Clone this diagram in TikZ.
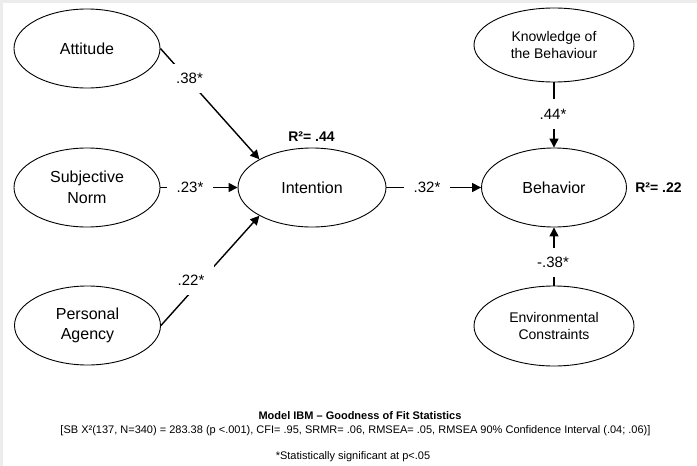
\documentclass[tikz,border=0pt]{standalone}
\usepackage{fontspec}
\setmainfont{Liberation Sans}
\usetikzlibrary{shapes.geometric, arrows.meta}

\begin{document}
\begin{tikzpicture}[x=1pt, y=-1pt,
  latent/.style={ellipse, draw, line width=0.9pt, inner sep=0pt,
    minimum width=146pt, minimum height=79pt, align=center,
    font=\fontsize{16}{20.5}\selectfont},
  latentsm/.style={latent, minimum width=160pt,
    font=\fontsize{14}{16.5}\selectfont},
  link/.style={line width=1.4pt, -{Triangle[length=9pt,width=9pt]}},
  coef/.style={fill=white, inner sep=9.5pt, font=\fontsize{15}{18}\selectfont},
  rsq/.style={inner sep=0pt, font=\bfseries\fontsize{14}{17}\selectfont},
  note/.style={inner sep=0pt, font=\fontsize{11}{13}\selectfont},
  notebf/.style={note, font=\bfseries\fontsize{11}{13}\selectfont}]

% canvas with a thin grey rim on the top and left
\fill[gray!15] (0,0) rectangle (697,466);
\fill[white] (3,3) rectangle (697,466);
\useasboundingbox (0,0) rectangle (697,466);

% constructs
\node[latent] (att)    at (87,48.5)   {Attitude};
\node[latent] (sub)    at (87,187.5)  {Subjective\\Norm};
\node[latent] (agency) at (87.5,325.5){Personal\\Agency};
\node[latent, minimum width=148pt] (int) at (312,187.5) {Intention};
\node[latent, minimum width=145pt] (beh) at (554,187.5) {Behavior};
\node[latentsm, minimum height=74pt] (know) at (554,45) {Knowledge of\\the Behaviour};
\node[latentsm, minimum height=80pt] (env)  at (554,326) {Environmental\\Constraints};

% structural paths
\draw[link] (att.east)    -- (int.north west);
\draw[link] (sub.east)    -- (int.west);
\draw[link] (agency.east) -- (int.south west);
\draw[link] (int.east)    -- (beh.west);
\draw[link] (know.south)  -- (beh.north);
\draw[link] (env.north)   -- (beh.south);

% path coefficients
\node[coef] (c1) at (189.5,78.5) {.38*};
\node[coef] (c2) at (190,187.5)  {.23*};
\node[coef] (c3) at (191,280)    {.22*};
\node[coef] (c4) at (427,187.5)  {.32*};
\node[coef] (c5) at (553,114)    {.44*};
\node[coef] (c6) at (553,262.5)  {-.38*};

% explained variance
\node[rsq] (r1) at (311.5,137) {R²= .44};
\node[rsq] (r2) at (658.5,188) {R²= .22};

% fit statistics
\node[notebf] (t1) at (360,416) {Model IBM – Goodness of Fit Statistics};
\node[note] (t2) at (355.5,431) {[SB X²(137, N=340) = 283.38 (p <.001), CFI= .95, SRMR= .06, RMSEA= .05, RMSEA 90\% Confidence Interval (.04; .06)]};
\node[note] (t3) at (353,457) {*Statistically significant at p<.05};
\end{tikzpicture}
\end{document}
